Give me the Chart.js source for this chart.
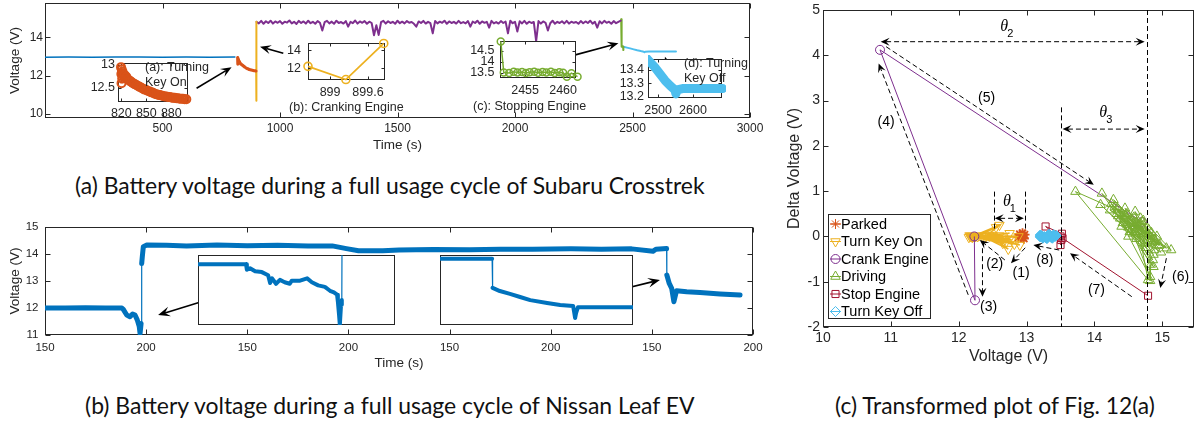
<!DOCTYPE html>
<html>
<head>
<meta charset="utf-8">
<script src="https://cdn.jsdelivr.net/npm/chart.js"></script>
<style>
  html, body { margin: 0; padding: 0; background: #fff; }
  #fig { position: relative; width: 1201px; height: 423px; overflow: hidden; }
  #fig canvas { position: absolute; }
  .note { position: absolute; font: 12.5px "Liberation Sans", Arial, sans-serif; line-height: 14px; color: #262626; white-space: nowrap; z-index: 20; }
  .cap { position: absolute; font-family: Lato, "Noto Sans", sans-serif; color: #111; white-space: nowrap; line-height: 1.2; z-index: 20; }
</style>
</head>
<body>
<div id="fig">
  <div class="cap" id="capA">(a) Battery voltage during a full usage cycle of Subaru Crosstrek</div>
  <div class="cap" id="capB">(b) Battery voltage during a full usage cycle of Nissan Leaf EV</div>
  <div class="cap" id="capC">(c) Transformed plot of Fig. 12(a)</div>
</div>
<script>
// matlab default colours
const C = { blue: '#0072BD', orange: '#D95319', yellow: '#EDB120', purple: '#7E2F8E', green: '#77AC30', cyan: '#4DBEEE', red: '#A2142F' };

// ---- (a) Subaru Crosstrek, time (s) / voltage (V)
const aXTicks = [500, 1000, 1500, 2000, 2500, 3000];
const aYTicks = [10, 12, 14];
const aParkT = [0, 100, 200, 300, 400, 500, 600, 700, 808];
const aParkV = [12.96, 12.97, 12.96, 12.97, 12.97, 12.96, 12.97, 12.96, 12.97];
const aKeyOnT = [819.6, 820.0, 820.2, 820.5, 821, 821.5, 822, 823, 824, 825, 826, 827, 828, 829.5, 831, 832.5, 834, 836, 838, 840, 842, 844, 846, 848, 850, 852, 854, 856, 858, 860, 862, 864, 866, 868, 870, 872, 874, 876, 878, 880, 882, 884, 886, 888, 890, 892, 894, 896, 898];
const aKeyOnV = [12.95, 12.8, 12.6, 12.9, 12.7, 12.85, 12.8, 12.75, 12.78, 12.72, 12.74, 12.69, 12.68, 12.66, 12.64, 12.62, 12.6, 12.58, 12.56, 12.54, 12.52, 12.5, 12.48, 12.46, 12.45, 12.43, 12.42, 12.4, 12.39, 12.37, 12.36, 12.35, 12.34, 12.33, 12.32, 12.31, 12.31, 12.3, 12.3, 12.29, 12.28, 12.28, 12.27, 12.27, 12.26, 12.26, 12.26, 12.25, 12.25];
const aCrankT = [898.65, 899.25, 899.85];
const aCrankV = [12.2, 10.7, 14.8];
// driving: one sample every 10 s from 900 s
const aDriveT0 = 900, aDriveStep = 10;
const aDriveV = [
  14.80, 14.72, 14.85, 14.70, 14.83, 14.74, 14.86, 14.71, 14.82, 14.75,
  14.84, 14.70, 14.81, 14.76, 14.87, 14.72, 14.80, 14.69, 14.85, 14.74,
  14.82, 14.71, 14.86, 14.73, 14.80, 14.70, 14.84, 14.75, 14.35, 14.78,
  14.85, 14.72, 14.81, 14.70, 14.86, 14.74, 14.79, 14.71, 14.84, 14.55,
  14.80, 14.73, 14.87, 14.71, 14.82, 14.75, 14.84, 14.70, 14.81, 14.74,
  14.10, 14.62, 14.12, 14.78, 14.85, 14.71, 14.83, 14.74, 14.80, 14.70,
  14.86, 14.73, 14.81, 14.72, 14.84, 14.75, 14.79, 14.70, 14.55, 14.82,
  14.74, 14.85, 14.71, 14.80, 14.73, 14.20, 14.84, 14.72, 14.81, 14.75,
  14.86, 14.70, 14.82, 14.74, 14.80, 14.71, 14.85, 14.73, 14.79, 14.72,
  14.84, 14.55, 14.81, 14.74, 14.86, 14.70, 14.82, 14.75, 14.80, 14.50,
  14.85, 14.72, 14.79, 14.71, 14.84, 14.74, 14.81, 14.20, 14.86, 14.73,
  14.80, 14.30, 14.83, 14.72, 14.85, 14.70, 14.81, 14.74, 14.79, 13.80,
  14.84, 14.71, 14.82, 14.75, 14.35, 14.73, 14.86, 14.70, 14.80, 14.74,
  14.83, 14.72, 14.85, 14.71, 14.81, 14.75, 14.79, 14.70, 14.84, 14.73,
  14.82, 14.74, 14.86, 14.71, 14.80, 14.50, 14.83, 14.72, 14.85, 14.75,
  14.81, 14.70, 14.84, 14.73, 14.80, 14.86
];
const aStopT = [2451.8, 2452.2, 2452.9, 2453.5, 2454.0, 2454.6, 2455.1, 2455.6, 2456.2, 2456.7, 2457.3, 2457.8, 2458.4, 2458.9, 2459.5, 2460.0, 2460.5, 2461.1, 2461.9];
const aStopV = [14.93, 13.52, 13.5, 13.55, 13.52, 13.54, 13.5, 13.53, 13.55, 13.51, 13.54, 13.52, 13.55, 13.5, 13.53, 13.51, 13.33, 13.49, 13.33];
const aOffT = [2462, 2476, 2490, 2505, 2520, 2535, 2548, 2551, 2554, 2570, 2590, 2610, 2630, 2650, 2670, 2685];
const aOffV = [13.5, 13.46, 13.42, 13.37, 13.32, 13.28, 13.25, 13.22, 13.25, 13.26, 13.26, 13.26, 13.26, 13.26, 13.26, 13.26];
// inset tick values
const inAXTicks = [820, 850, 880], inAYTicks = [12.5, 13];
const inBXTicks = [899, 899.6], inBYTicks = [12, 14];
const inCXTicks = [2455, 2460], inCYTicks = [13.5, 14, 14.5];
const inDXTicks = [2500, 2600], inDYTicks = [13.2, 13.3, 13.4];

// ---- (b) Nissan Leaf EV
const bXTicks = [150, 200, 250, 300, 350, 400, 450, 500];
const bXLabels = ['150', '200', '150', '200', '150', '200', '150', '200'];
const bYTicks = [11, 12, 13, 14, 15];
const bT = [150, 160, 170, 180, 188, 188.7, 190.4, 192, 193.3, 194.5, 195.6, 196.6, 197, 197.5, 197.8, 198.1, 198.6, 200.3, 210, 220, 235, 250, 265, 280, 292, 299, 305, 317, 325, 342, 360, 375, 391, 410, 425, 440, 450.6, 452, 457.3, 457.4, 458.6, 459.8, 460.9, 462.2, 467.2, 473.8, 483.7, 493.6];
const bV = [12.0, 12.0, 12.01, 12.0, 12.0, 11.95, 11.74, 11.68, 11.78, 11.74, 11.56, 11.31, 11.06, 11.43, 13.65, 13.9, 14.27, 14.33, 14.32, 14.3, 14.33, 14.31, 14.32, 14.3, 14.3, 14.2, 14.12, 14.12, 14.15, 14.17, 14.16, 14.18, 14.18, 14.19, 14.18, 14.19, 14.1, 14.18, 14.2, 13.22, 12.91, 12.73, 12.23, 12.64, 12.6, 12.57, 12.52, 12.48];
const bIn1T = [160, 166, 172.2, 172.4, 173.2, 174.5, 176.2, 177.8, 178.3, 178.8, 179.8, 180.8, 182, 183.3, 183.8, 185.9, 187.7, 188.9, 190.5, 192.2, 193.5, 194.5, 195.3, 195.5, 195.8, 196, 196.3, 196.5, 196.6];
const bIn1V = [11.98, 11.98, 11.98, 11.91, 11.93, 11.89, 11.88, 11.84, 11.74, 11.8, 11.73, 11.78, 11.75, 11.73, 11.77, 11.77, 11.8, 11.75, 11.71, 11.69, 11.64, 11.62, 11.59, 11.5, 11.33, 11.2, 11.46, 11.52, 13.0];
const bIn2T = [455, 460, 465.8, 465.9, 467.4, 469.5, 471.6, 473.7, 477.2, 479.9, 482.6, 482.8, 483.0, 483.2, 483.6, 488.2, 495];
const bIn2V = [14.19, 14.19, 14.19, 13.36, 13.27, 13.19, 13.1, 13.01, 12.93, 12.87, 12.84, 12.67, 12.5, 12.64, 12.81, 12.81, 12.81];

// ---- (c) voltage vs delta voltage
const cXTicks = [10, 11, 12, 13, 14, 15];
const cYTicks = [-2, -1, 0, 1, 2, 3, 4, 5];
const cParkV = [12.9, 12.95, 12.92, 12.97, 12.88, 12.94, 12.96, 12.91, 12.93];
const cParkD = [0.05, -0.03, 0.0, 0.04, -0.02, 0.07, -0.05, 0.02, 0.0];
const cKeyOnV = [12.88, 12.2, 12.6, 12.15, 12.5, 12.18, 12.65, 12.25, 12.55, 12.3, 12.75, 12.2, 12.6, 12.4, 12.7, 12.22, 12.82, 12.35, 12.73, 12.45, 12.9, 12.28, 12.75, 12.17, 12.65, 12.5, 12.78, 12.2, 12.45, 12.16, 12.58, 12.23];
const cKeyOnD = [0.0, 0.0, 0.02, -0.02, 0.0, 0.01, -0.03, 0.0, 0.2, 0.02, -0.05, 0.0, 0.25, 0.0, -0.12, 0.0, -0.17, 0.0, -0.28, 0.03, -0.19, 0.0, 0.07, 0.0, -0.15, 0.02, -0.08, -0.02, 0.01, 0.02, -0.04, 0.0];
const cCrankV = [12.23, 12.24, 10.84, 14.7];
const cCrankD = [0.0, -1.41, 4.12, 0.32];
const cDriveV = [14.70, 14.35, 14.80, 14.45, 14.90, 14.28, 14.62, 14.95, 14.40, 14.75, 14.23, 14.85, 14.55, 15.06, 14.50, 14.82, 14.11, 14.87, 14.60, 14.38, 14.92, 14.65, 14.30, 14.78, 14.48, 14.96, 14.70, 14.42, 14.88, 14.58, 13.72, 14.79, 14.66, 14.35, 15.13, 14.72, 14.52, 14.86, 14.45, 14.80, 14.62, 14.09, 14.87, 14.57, 14.76, 14.33, 14.90, 14.68, 14.50, 14.84, 14.40, 14.98, 14.60, 14.74, 14.25, 14.82, 14.55, 14.88, 14.44, 14.83, 14.82];
const cDriveD = [0.32, 0.60, 0.05, 0.45, -0.10, 0.81, 0.30, -0.20, 0.52, 0.12, 0.58, -0.05, 0.35, -0.26, 0.20, -0.15, 0.95, -0.67, 0.10, 0.40, 0.00, 0.25, 0.65, -0.10, 0.50, -0.19, 0.18, 0.30, -0.30, 0.42, 0.99, -0.96, 0.05, 0.45, -0.30, 0.35, 0.10, -0.52, 0.62, 0.15, -0.05, 0.70, -0.40, 0.28, -0.25, 0.50, -0.12, 0.40, 0.00, 0.08, 0.22, -0.35, 0.55, -0.15, 0.72, -0.89, 0.15, -0.08, 0.38, -0.62, -0.98];
const cStopV = [14.79, 13.53, 13.5, 13.52, 13.28, 13.51, 13.5];
const cStopD = [-1.31, -0.04, -0.19, 0.06, 0.22, -0.08, 0.0];
const cOffV = [13.44, 13.21, 13.38, 13.2, 13.33, 13.24, 13.42, 13.22, 13.3, 13.4, 13.26, 13.36, 13.2, 13.32, 13.28];
const cOffD = [0.02, 0.0, -0.04, 0.03, 0.05, -0.04, 0.0, 0.02, -0.05, 0.04, 0.0, -0.02, -0.01, 0.03, -0.03];
const cLegend = ['Parked', 'Turn Key On', 'Crank Engine', 'Driving', 'Stop Engine', 'Turn Key Off'];

const pts = (xs, ys) => xs.map((x, i) => ({ x, y: ys[i] }));
const aDriveT = aDriveV.map((_, i) => aDriveT0 + i * aDriveStep);

Chart.defaults.font.family = '"Liberation Sans", Arial, sans-serif';
Chart.defaults.color = '#262626';

// matlab style box with inward ticks on all four sides
Chart.register({
  id: 'frame',
  defaults: { tick: 5, fill: null, color: '#262626' },
  beforeDraw(chart, args, o) {
    if (!o.fill) return;
    const { ctx, chartArea: a } = chart;
    ctx.save();
    ctx.fillStyle = o.fill;
    ctx.fillRect(a.left, a.top, a.right - a.left, a.bottom - a.top);
    ctx.restore();
  },
  beforeDatasetsDraw(chart, args, o) {
    const { ctx, chartArea: a, scales } = chart;
    const l = Math.round(a.left) + 0.5, r = Math.round(a.right) - 0.5;
    const t = Math.round(a.top) + 0.5, b = Math.round(a.bottom) - 0.5;
    ctx.save();
    ctx.strokeStyle = o.color;
    ctx.lineWidth = 1;
    ctx.strokeRect(l, t, r - l, b - t);
    ctx.beginPath();
    for (const tk of scales.x.ticks) {
      const p = Math.round(scales.x.getPixelForValue(tk.value)) + 0.5;
      ctx.moveTo(p, b); ctx.lineTo(p, b - o.tick);
      ctx.moveTo(p, t); ctx.lineTo(p, t + o.tick);
    }
    for (const tk of scales.y.ticks) {
      const p = Math.round(scales.y.getPixelForValue(tk.value)) + 0.5;
      ctx.moveTo(l, p); ctx.lineTo(l + o.tick, p);
      ctx.moveTo(r, p); ctx.lineTo(r - o.tick, p);
    }
    ctx.stroke();
    ctx.restore();
  }
});

function axis(min, max, ticks, o = {}) {
  return {
    type: 'linear', min, max,
    grid: { display: false, drawTicks: false },
    border: { display: false },
    afterBuildTicks: s => { s.ticks = ticks.map(v => ({ value: v })); },
    ticks: {
      display: o.labels !== false, autoSkip: false, maxRotation: 0, minRotation: 0,
      padding: o.pad ?? 3, font: { size: o.size ?? 12 }, color: '#262626',
      callback: o.fmt || (v => String(v))
    },
    title: o.title
      ? { display: true, text: o.title, color: '#262626', font: { size: o.tsize ?? 13.5 }, padding: o.tpad }
      : { display: false }
  };
}

const fig = document.getElementById('fig');
let zz = 1;
// box = plot area [left, top, right, bottom] in page px, pad = room for labels [l, t, r, b]
function makeChart(box, pad, datasets, options, plugins) {
  const [L, T, R, B] = box, [pl, pt, pr, pb] = pad;
  const cv = document.createElement('canvas');
  cv.width = R - L + pl + pr;
  cv.height = B - T + pt + pb;
  cv.style.left = (L - pl) + 'px';
  cv.style.top = (T - pt) + 'px';
  cv.style.zIndex = zz++;
  fig.appendChild(cv);
  options.responsive = false;
  options.animation = false;
  options.events = [];
  options.layout = { padding: { left: 0, top: pt, right: pr, bottom: 0 } };
  options.scales.x.afterFit = s => { s.height = pb; s.paddingLeft = 0; s.paddingRight = 0; };
  options.scales.y.afterFit = s => { s.width = pl; s.paddingTop = 0; s.paddingBottom = 0; };
  options.plugins = Object.assign({ legend: { display: false }, tooltip: { enabled: false } }, options.plugins || {});
  return new Chart(cv, { type: 'scatter', data: { datasets }, options, plugins: plugins || [] });
}

const line = (data, color, width, extra) => Object.assign({
  data, showLine: true, borderColor: color, backgroundColor: color, borderWidth: width,
  pointRadius: 0, borderJoinStyle: 'round', borderCapStyle: 'round'
}, extra || {});
const marks = (data, color, style, radius, extra) => Object.assign({
  data, showLine: true, borderColor: color, backgroundColor: 'rgba(0,0,0,0)', borderWidth: 1,
  pointStyle: style, pointRadius: radius, pointBorderWidth: 1, pointBorderColor: color
}, extra || {});

function arrow(ctx, x1, y1, x2, y2, o) {
  const L = o.len || 10, W = o.wid || 8;
  const ang = Math.atan2(y2 - y1, x2 - x1);
  const c = Math.cos(ang), s = Math.sin(ang);
  ctx.save();
  ctx.strokeStyle = ctx.fillStyle = '#000';
  ctx.lineWidth = o.lw || 1;
  ctx.setLineDash(o.dash || []);
  ctx.beginPath();
  ctx.moveTo(o.both ? x1 + c * L * 0.6 : x1, o.both ? y1 + s * L * 0.6 : y1);
  ctx.lineTo(x2 - c * L * 0.6, y2 - s * L * 0.6);
  ctx.stroke();
  ctx.setLineDash([]);
  const heads = o.both ? [[x2, y2, c, s], [x1, y1, -c, -s]] : [[x2, y2, c, s]];
  for (const [tx, ty, hc, hs] of heads) {
    ctx.beginPath();
    ctx.moveTo(tx, ty);
    ctx.lineTo(tx - L * hc + W / 2 * hs, ty - L * hs - W / 2 * hc);
    ctx.lineTo(tx - 0.6 * L * hc, ty - 0.6 * L * hs);
    ctx.lineTo(tx - L * hc - W / 2 * hs, ty - L * hs + W / 2 * hc);
    ctx.closePath();
    ctx.fill();
  }
  ctx.restore();
}
const px = (chart, x, y) => [chart.scales.x.getPixelForValue(x), chart.scales.y.getPixelForValue(y)];

// ================= (a) =================
makeChart([45, 3, 750, 118], [45, 3, 20, 42], [
  line(pts(aParkT, aParkV), C.blue, 1.5),
  line(pts(aKeyOnT, aKeyOnV), C.orange, 3),
  line(pts(aCrankT, aCrankV), C.yellow, 2),
  line(pts(aDriveT, aDriveV), C.purple, 2),
  line(pts(aStopT, aStopV), C.green, 2),
  line(pts(aOffT, aOffV), C.cyan, 2)
], {
  scales: {
    x: axis(0, 3000, aXTicks, { pad: 3, title: 'Time (s)', tpad: { top: 0, bottom: 7 } }),
    y: axis(9.8, 15.78, aYTicks, { pad: 2, title: 'Voltage (V)', tpad: { top: 7, bottom: 0 } })
  },
  plugins: { frame: { tick: 5 } }
}, [{
  id: 'notesA',
  afterDatasetsDraw(chart) {
    const ctx = chart.ctx;
    const arrows = [[645, 11.35, 794, 12.44], [1014, 13.17, 915, 13.51], [2241, 13.03, 2440, 13.69], [2663, 12.09, 2638, 12.99]];
    for (const [x1, y1, x2, y2] of arrows) {
      const p = px(chart, x1, y1), q = px(chart, x2, y2);
      arrow(ctx, p[0], p[1], q[0], q[1], { lw: 1.6, len: 11, wid: 9 });
    }
  }
}]);

// inset (a) key on
makeChart([118, 63, 188, 102], [40, 8, 12, 22], [
  marks(pts(aKeyOnT, aKeyOnV), C.orange, 'circle', 4, { borderWidth: 2.5, pointBorderWidth: 2, clip: false })
], {
  scales: {
    x: axis(816, 900, inAXTicks, { pad: 4, size: 12.5 }),
    y: axis(12.19, 13.04, inAYTicks, { pad: 3, size: 12.5 })
  },
  plugins: { frame: { tick: 3, fill: '#fff' } }
});
// inset (b) cranking
makeChart([308, 43, 385, 80], [40, 8, 20, 22], [
  marks(pts(aCrankT, aCrankV), C.yellow, 'circle', 4, { borderWidth: 1.8, pointBorderWidth: 1.6, clip: false })
], {
  scales: {
    x: axis(898.65, 899.87, inBXTicks, { pad: 5.5, size: 12.5 }),
    y: axis(10.65, 14.85, inBYTicks, { pad: 7, size: 12.5 })
  },
  plugins: { frame: { tick: 3, fill: '#fff' } }
});
// inset (c) stopping
makeChart([500, 41, 576, 78], [45, 8, 20, 22], [
  marks(pts(aStopT, aStopV), C.green, 'circle', 3.5, { borderWidth: 1.5, pointBorderWidth: 1.5, clip: false })
], {
  scales: {
    x: axis(2451.7, 2461.7, inCXTicks, { pad: 5.5, size: 12.5 }),
    y: axis(13.27, 14.95, inCYTicks, { pad: 5.5, size: 12.5 })
  },
  plugins: { frame: { tick: 3, fill: '#fff' } }
});
// inset (d) key off
makeChart([648, 59, 722, 98], [45, 8, 20, 22], [
  line(pts(aOffT, aOffV), C.cyan, 9, { clip: { left: 0, top: 4, right: 4, bottom: 5 } })
], {
  scales: {
    x: axis(2471, 2683, inDXTicks, { pad: 5, size: 12.5 }),
    y: axis(13.19, 13.48, inDYTicks, { pad: 4, size: 12.5 })
  },
  plugins: { frame: { tick: 3, fill: '#fff' } }
});

// ================= (b) =================
const dotted = w => ({ borderWidth: ctx => Math.abs(ctx.p1.parsed.y - ctx.p0.parsed.y) > 0.3 ? 1.2 : w });
makeChart([45, 227, 753, 335], [45, 12, 17, 40], [
  line(pts(bT, bV), C.blue, 5, { segment: { borderWidth: ctx => Math.abs(ctx.p1.parsed.y - ctx.p0.parsed.y) > 0.6 ? 1.2 : 5 } })
], {
  scales: {
    x: axis(150, 500, bXTicks, { pad: 5.5, size: 11.5, fmt: (v, i) => bXLabels[i], title: 'Time (s)', tpad: { top: 0, bottom: 4 } }),
    y: axis(11, 15, bYTicks, { pad: 6.5, size: 11.5, title: 'Voltage (V)', tpad: { top: 7, bottom: 0 } })
  },
  plugins: { frame: { tick: 5 } }
}, [{
  id: 'notesB',
  afterDatasetsDraw(chart) {
    const arrows = [[230.1, 12.30, 205.9, 11.74], [433.7, 12.67, 454, 13.04]];
    for (const [x1, y1, x2, y2] of arrows) {
      const p = px(chart, x1, y1), q = px(chart, x2, y2);
      arrow(chart.ctx, p[0], p[1], q[0], q[1], { lw: 1.6, len: 12, wid: 10 });
    }
  }
}]);
makeChart([198, 255, 395, 325], [4, 4, 4, 4], [
  line(pts(bIn1T, bIn1V), C.blue, 4, { segment: dotted(4), clip: 0 })
], {
  scales: { x: axis(160, 210, [], { labels: false }), y: axis(11.2, 12.1, [], { labels: false }) },
  plugins: { frame: { tick: 0, fill: '#fff' } }
});
makeChart([440, 255, 633, 325], [4, 4, 4, 4], [
  line(pts(bIn2T, bIn2V), C.blue, 4, { segment: dotted(4), clip: 0 })
], {
  scales: { x: axis(455, 495, [], { labels: false }), y: axis(12.3, 14.3, [], { labels: false }) },
  plugins: { frame: { tick: 0, fill: '#fff' } }
});

// ================= (c) =================
const cSeries = [
  { color: C.orange, style: 'star', rot: 0, r: 5 },
  { color: C.yellow, style: 'triangle', rot: 180, r: 5.5 },
  { color: C.purple, style: 'circle', rot: 0, r: 4.5 },
  { color: C.green, style: 'triangle', rot: 0, r: 5.5 },
  { color: C.red, style: 'rect', rot: 0, r: 5 },
  { color: C.cyan, style: 'rectRot', rot: 0, r: 5 }
];
const cData = [pts(cParkV, cParkD), pts(cKeyOnV, cKeyOnD), pts(cCrankV, cCrankD), pts(cDriveV, cDriveD), pts(cStopV, cStopD), pts(cOffV, cOffD)];
makeChart([823, 10, 1198, 327], [43, 10, 3, 48], cData.map((d, i) => {
  const s = cSeries[i];
  return marks(d, s.color, s.style, s.r, {
    order: 6 - i, pointRotation: s.rot,
    borderWidth: i === 1 ? 1.5 : 1, pointBorderWidth: i === 0 ? 1.8 : 1,
    pointBackgroundColor: i === 5 ? s.color : 'rgba(0,0,0,0)'
  });
}), {
  scales: {
    x: axis(10, 15.47, cXTicks, { pad: 2.3, size: 14, title: 'Voltage (V)', tsize: 16, tpad: { top: 0, bottom: 8.7 } }),
    y: axis(-2, 5, cYTicks, { pad: 3, size: 14, title: 'Delta Voltage (V)', tsize: 16, tpad: { top: 5.4, bottom: 0 } })
  },
  plugins: { frame: { tick: 5 } }
}, [{
  id: 'notesC',
  afterDatasetsDraw(chart) {
    const ctx = chart.ctx;
    const dash = [5, 3];
    // dashed guide lines
    ctx.save();
    ctx.strokeStyle = '#000'; ctx.lineWidth = 1; ctx.setLineDash(dash);
    for (const [x, y1, y2] of [[14.78, 5, -2], [13.51, 2.85, -2], [12.52, 0.99, 0.15], [12.97, 0.99, 0.17]]) {
      const p = px(chart, x, y1), q = px(chart, x, y2);
      ctx.beginPath(); ctx.moveTo(Math.round(p[0]) + 0.5, p[1]); ctx.lineTo(Math.round(q[0]) + 0.5, q[1]); ctx.stroke();
    }
    ctx.restore();
    // theta spans (double headed)
    for (const [x1, x2, y] of [[10.85, 14.74, 4.3], [13.53, 14.74, 2.37], [12.53, 12.96, 0.4]]) {
      const p = px(chart, x1, y), q = px(chart, x2, y);
      arrow(ctx, p[0], p[1], q[0], q[1], { both: true, dash, len: 9, wid: 8 });
    }
    // transition arrows
    const steps = [
      [10.93, 4.19, 13.99, 1.14], [12.14, -1.29, 10.82, 3.82], [12.35, -0.26, 12.35, -1.33],
      [12.68, -0.52, 12.31, -0.08], [12.98, -0.25, 12.77, -0.59], [13.48, -0.3, 13.1, -0.19],
      [14.55, -1.33, 13.64, -0.37], [15.06, -0.48, 14.97, -1.14]
    ];
    for (const [x1, y1, x2, y2] of steps) {
      const p = px(chart, x1, y1), q = px(chart, x2, y2);
      arrow(ctx, p[0], p[1], q[0], q[1], { dash, len: 9, wid: 8 });
    }
    ctx.save();
    ctx.fillStyle = '#000';
    ctx.textAlign = 'center'; ctx.textBaseline = 'middle';
    ctx.font = '14px "Liberation Sans", Arial, sans-serif';
    const tags = [['(5)', 12.41, 3.05], ['(4)', 10.93, 2.53], ['(3)', 12.44, -1.56], ['(2)', 12.53, -0.61], ['(1)', 12.92, -0.81], ['(8)', 13.27, -0.52], ['(7)', 14.03, -1.18], ['(6)', 15.27, -0.9]];
    for (const [t, x, y] of tags) { const p = px(chart, x, y); ctx.fillText(t, p[0], p[1]); }
    for (const [n, x, y] of [['2', 12.67, 4.62], ['3', 14.13, 2.72], ['1', 12.71, 0.76]]) {
      const p = px(chart, x, y);
      ctx.font = 'italic 16px "Liberation Serif", "DejaVu Serif", serif';
      ctx.fillText('\u03B8', p[0], p[1]);
      ctx.font = '11px "Liberation Sans", Arial, sans-serif';
      ctx.fillText(n, p[0] + 6, p[1] + 7);
    }
    ctx.restore();
  },
  afterDraw(chart) {
    // legend box, inside the axes at lower left
    const ctx = chart.ctx;
    ctx.save();
    ctx.fillStyle = '#fff';
    ctx.fillRect(48, 214, 102, 104);
    ctx.strokeStyle = '#262626'; ctx.lineWidth = 1;
    ctx.strokeRect(48.5, 214.5, 102, 104);
    ctx.font = '14.5px "Liberation Sans", Arial, sans-serif';
    ctx.textBaseline = 'middle';
    cLegend.forEach((label, i) => {
      const s = cSeries[i], y = 224 + i * 17.5;
      ctx.strokeStyle = s.color; ctx.lineWidth = 1;
      ctx.beginPath(); ctx.moveTo(50, y); ctx.lineTo(61, y); ctx.stroke();
      ctx.fillStyle = 'rgba(0,0,0,0)';
      Chart.helpers.drawPoint(ctx, { pointStyle: s.style, rotation: s.rot, radius: s.r, borderWidth: 1 }, 55.5, y);
      ctx.fillStyle = '#000';
      ctx.fillText(label, 61, y + 0.5);
    });
    ctx.restore();
  }
}]);

// ---- text notes over panel (a)
const notes = [
  ['(a): Turning', 145, 67.3], ['Key On', 145, 81.7], ['(b): Cranking Engine', 289, 107.3],
  ['(c): Stopping Engine', 473, 106], ['(d): Turning', 684, 63.3], ['Key Off', 684, 77.7]
];
for (const [t, x, cy] of notes) {
  const d = document.createElement('div');
  d.className = 'note';
  d.textContent = t;
  d.style.left = x + 'px';
  d.style.top = (cy - 7) + 'px';
  fig.appendChild(d);
}

// ---- captions, sized to the width they take in the figure
function fitCaption(id, left, right, cy) {
  const el = document.getElementById(id);
  el.style.fontSize = '20px';
  const w = el.getBoundingClientRect().width;
  el.style.fontSize = (20 * (right - left) / w) + 'px';
  el.style.left = left + 'px';
  el.style.top = (cy - el.getBoundingClientRect().height / 2) + 'px';
}
fitCaption('capA', 75, 705, 186);
fitCaption('capB', 85, 695, 406);
fitCaption('capC', 835, 1155, 406);
</script>
</body>
</html>
